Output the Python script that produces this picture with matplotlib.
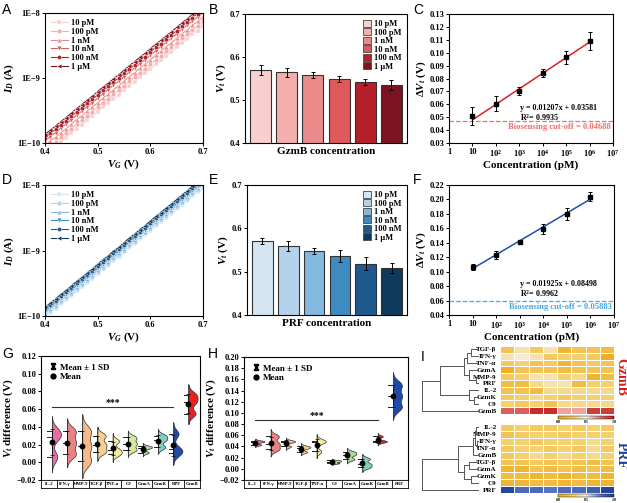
import numpy as np
import matplotlib
matplotlib.use("Agg")
import matplotlib.pyplot as plt
from matplotlib.colors import LinearSegmentedColormap
from matplotlib.lines import Line2D
from matplotlib.patches import Patch

plt.rcParams['font.family'] = ['Liberation Serif', 'DejaVu Serif']
plt.rcParams['font.weight'] = 'bold'
plt.rcParams['axes.labelweight'] = 'bold'
plt.rcParams['mathtext.fontset'] = 'custom'
plt.rcParams['mathtext.rm'] = 'Liberation Serif:bold'
plt.rcParams['mathtext.it'] = 'Liberation Serif:italic:bold'
plt.rcParams['mathtext.bf'] = 'Liberation Serif:bold'
plt.rcParams['axes.linewidth'] = 0.8
plt.rcParams['xtick.major.width'] = 0.7
plt.rcParams['ytick.major.width'] = 0.7
plt.rcParams['xtick.major.size'] = 2
plt.rcParams['ytick.major.size'] = 2
plt.rcParams['xtick.labelsize'] = 6
plt.rcParams['ytick.labelsize'] = 6

# ---------------- data ----------------
conc_labels = ['10 pM', '100 pM', '1 nM', '10 nM', '100 nM', '1 \u03bcM']
markers = ['s', 'o', '^', 'v', 'h', '<']
red_colors = ['#f8cfcf', '#f4aeae', '#ea8a8a', '#de5a5a', '#b5202a', '#7a1420']
blue_colors = ['#d5e6f2', '#b4d2eb', '#83b8df', '#3e8bc0', '#1f5a8e', '#0f3a5c']

vg = [0.40, 0.41, 0.42, 0.43, 0.44, 0.45, 0.46, 0.47, 0.48, 0.49, 0.50,
      0.51, 0.52, 0.53, 0.54, 0.55, 0.56, 0.57, 0.58, 0.59, 0.60,
      0.61, 0.62, 0.63, 0.64, 0.65, 0.66, 0.67, 0.68, 0.69, 0.70]

# log10(I_D) (GzmB), 10 pM ... 1 uM
gzmb_log_id = [
    [-10.18, -10.11, -10.05, -9.98, -9.92, -9.85, -9.78, -9.72, -9.65, -9.59, -9.52, -9.45, -9.39, -9.32, -9.26, -9.19,
     -9.12, -9.06, -8.99, -8.93, -8.86, -8.79, -8.73, -8.66, -8.60, -8.53, -8.46, -8.40, -8.33, -8.27, -8.20],
    [-10.11, -10.04, -9.98, -9.91, -9.85, -9.78, -9.71, -9.65, -9.58, -9.52, -9.45, -9.38, -9.32, -9.25, -9.19, -9.12,
     -9.05, -8.99, -8.92, -8.86, -8.79, -8.72, -8.66, -8.59, -8.53, -8.46, -8.39, -8.33, -8.26, -8.20, -8.13],
    [-10.04, -9.97, -9.91, -9.84, -9.78, -9.71, -9.64, -9.58, -9.51, -9.45, -9.38, -9.31, -9.25, -9.18, -9.12, -9.05,
     -8.98, -8.92, -8.85, -8.79, -8.72, -8.65, -8.59, -8.52, -8.46, -8.39, -8.32, -8.26, -8.19, -8.13, -8.06],
    [-9.97, -9.90, -9.84, -9.77, -9.71, -9.64, -9.57, -9.51, -9.44, -9.38, -9.31, -9.24, -9.18, -9.11, -9.05, -8.98,
     -8.91, -8.85, -8.78, -8.72, -8.65, -8.58, -8.52, -8.45, -8.39, -8.32, -8.25, -8.19, -8.12, -8.06, -7.99],
    [-9.92, -9.85, -9.79, -9.72, -9.66, -9.59, -9.52, -9.46, -9.39, -9.33, -9.26, -9.19, -9.13, -9.06, -9.00, -8.93,
     -8.86, -8.80, -8.73, -8.67, -8.60, -8.53, -8.47, -8.40, -8.34, -8.27, -8.20, -8.14, -8.07, -8.01, -7.94],
    [-9.87, -9.80, -9.74, -9.67, -9.61, -9.54, -9.47, -9.41, -9.34, -9.28, -9.21, -9.14, -9.08, -9.01, -8.95, -8.88,
     -8.81, -8.75, -8.68, -8.62, -8.55, -8.48, -8.42, -8.35, -8.29, -8.22, -8.15, -8.09, -8.02, -7.96, -7.89],
]
# log10(I_D) (PRF)
prf_log_id = [
    [-10.02, -9.95, -9.89, -9.82, -9.76, -9.69, -9.62, -9.56, -9.49, -9.43, -9.36, -9.29, -9.23, -9.16, -9.10, -9.03,
     -8.96, -8.90, -8.83, -8.77, -8.70, -8.63, -8.57, -8.50, -8.44, -8.37, -8.30, -8.24, -8.17, -8.11, -8.04],
    [-9.99, -9.92, -9.86, -9.79, -9.73, -9.66, -9.59, -9.53, -9.46, -9.40, -9.33, -9.26, -9.20, -9.13, -9.07, -9.00,
     -8.93, -8.87, -8.80, -8.74, -8.67, -8.60, -8.54, -8.47, -8.41, -8.34, -8.27, -8.21, -8.14, -8.08, -8.01],
    [-9.96, -9.89, -9.83, -9.76, -9.70, -9.63, -9.56, -9.50, -9.43, -9.37, -9.30, -9.23, -9.17, -9.10, -9.04, -8.97,
     -8.90, -8.84, -8.77, -8.71, -8.64, -8.57, -8.51, -8.44, -8.38, -8.31, -8.24, -8.18, -8.11, -8.05, -7.98],
    [-9.93, -9.86, -9.80, -9.73, -9.67, -9.60, -9.53, -9.47, -9.40, -9.34, -9.27, -9.20, -9.14, -9.07, -9.01, -8.94,
     -8.87, -8.81, -8.74, -8.68, -8.61, -8.54, -8.48, -8.41, -8.35, -8.28, -8.21, -8.15, -8.08, -8.02, -7.95],
    [-9.90, -9.83, -9.77, -9.70, -9.64, -9.57, -9.50, -9.44, -9.37, -9.31, -9.24, -9.17, -9.11, -9.04, -8.98, -8.91,
     -8.84, -8.78, -8.71, -8.65, -8.58, -8.51, -8.45, -8.38, -8.32, -8.25, -8.18, -8.12, -8.05, -7.99, -7.92],
    [-9.87, -9.80, -9.74, -9.67, -9.61, -9.54, -9.47, -9.41, -9.34, -9.28, -9.21, -9.14, -9.08, -9.01, -8.95, -8.88,
     -8.81, -8.75, -8.68, -8.62, -8.55, -8.48, -8.42, -8.35, -8.29, -8.22, -8.15, -8.09, -8.02, -7.96, -7.89],
]

gzmb_vt = [0.570, 0.564, 0.558, 0.549, 0.542, 0.535]
gzmb_vt_err = [0.012, 0.010, 0.007, 0.006, 0.007, 0.012]
prf_vt = [0.570, 0.559, 0.548, 0.536, 0.518, 0.508]
prf_vt_err = [0.007, 0.012, 0.007, 0.014, 0.015, 0.012]

conc_pm = [10, 100, 1e3, 1e4, 1e5, 1e6]
gzmb_dvt = [0.051, 0.0605, 0.0705, 0.0842, 0.0965, 0.1092]
gzmb_dvt_err = [0.007, 0.006, 0.003, 0.003, 0.005, 0.007]
gzmb_fit = (0.01207, 0.03581)
gzmb_r2 = 0.9935
gzmb_cutoff = 0.04688
prf_dvt = [0.106, 0.123, 0.141, 0.159, 0.180, 0.204]
prf_dvt_err = [0.004, 0.005, 0.003, 0.007, 0.008, 0.006]
prf_fit = (0.01925, 0.08498)
prf_r2 = 0.9962
prf_cutoff = 0.05883

g_names = ['IL-2', 'IFN-\u03b3', 'MMP-9', 'TGF-\u03b2', 'TNF-\u03b1', 'C9', 'GzmA', 'GzmK', 'RPF', 'GzmB']
g_colors = ['#e46fa6', '#e98484', '#f5b98a', '#f7d08f', '#f3ec9a', '#d3e89a', '#a9d8a0', '#82cfc0', '#1f4aa8', '#e82222']
g_vals = [
    [0.035, 0.028, 0.006],
    [0.035, 0.022, 0.009],
    [0.035, 0.018, 0.001],
    [0.030, 0.020, 0.012],
    [0.024, 0.014, 0.009],
    [0.028, 0.021, 0.014],
    [0.018, 0.016, 0.011],
    [0.030, 0.025, 0.017],
    [0.032, 0.015, 0.010],
    [0.076, 0.068, 0.055],
]
h_names = ['IL-2', 'IFN-\u03b3', 'MMP-9', 'TGF-\u03b2', 'TNF-\u03b1', 'C9', 'GzmA', 'GzmK', 'GzmB', 'PRF']
h_colors = ['#e46fa6', '#e98484', '#f5b98a', '#f7d08f', '#f3ec9a', '#b5d98a', '#a9d8a0', '#82cfc0', '#e82222', '#1f4aa8']
h_vals = [
    [0.050, 0.048, 0.043],
    [0.058, 0.045, 0.035],
    [0.050, 0.048, 0.040],
    [0.040, 0.037, 0.030],
    [0.050, 0.048, 0.031],
    [0.015, 0.013, 0.010],
    [0.030, 0.025, 0.017],
    [0.018, 0.009, 0.003],
    [0.058, 0.050, 0.048],
    [0.150, 0.130, 0.110],
]

heat_top_rows = ['TGF-\u03b2', 'IFN-\u03b3', 'TNF-\u03b1', 'GzmA', 'MMP-9', 'PRF', 'IL-2', 'GzmK', 'C9', 'GzmB']
heat_top = [
    [0.20, 0.40, 0.25, 0.40, 0.10, 0.20, 0.20, 0.15],
    [0.40, 0.45, 0.40, 0.25, 0.30, 0.30, 0.25, 0.05],
    [0.25, 0.30, 0.20, 0.25, 0.10, 0.20, 0.25, 0.20],
    [0.05, 0.20, 0.20, 0.20, 0.15, 0.20, 0.20, 0.20],
    [0.25, 0.30, 0.40, 0.40, 0.30, 0.35, 0.10, 0.15],
    [0.15, 0.15, 0.35, 0.40, 0.40, 0.15, 0.30, 0.30],
    [0.20, 0.20, 0.15, 0.35, 0.35, 0.35, 0.35, 0.35],
    [0.25, 0.30, 0.35, 0.30, 0.25, 0.30, 0.30, 0.30],
    [0.30, 0.25, 0.30, 0.20, 0.35, 0.35, 0.35, 0.35],
    [0.80, 0.80, 0.95, 0.95, 0.65, 0.65, 0.90, 0.90],
]
heat_bot_rows = ['IL-2', 'MMP-9', 'IFN-\u03b3', 'TNF-\u03b1', 'GzmB', 'TGF-\u03b2', 'GzmA', 'GzmK', 'C9', 'PRF']
heat_bot = [
    [0.25, 0.30, 0.25, 0.25, 0.30, 0.25, 0.30, 0.25],
    [0.20, 0.25, 0.30, 0.30, 0.25, 0.30, 0.30, 0.30],
    [0.30, 0.30, 0.25, 0.30, 0.30, 0.30, 0.35, 0.30],
    [0.25, 0.30, 0.30, 0.25, 0.30, 0.25, 0.35, 0.25],
    [0.25, 0.30, 0.35, 0.30, 0.35, 0.30, 0.35, 0.30],
    [0.20, 0.20, 0.25, 0.20, 0.25, 0.20, 0.15, 0.20],
    [0.10, 0.10, 0.20, 0.15, 0.20, 0.15, 0.20, 0.15],
    [0.15, 0.15, 0.10, 0.15, 0.10, 0.15, 0.15, 0.10],
    [0.10, 0.10, 0.15, 0.15, 0.10, 0.15, 0.10, 0.10],
    [0.95, 0.80, 0.80, 0.75, 0.80, 0.80, 0.85, 0.95],
]

# dendrograms: (left, right, height), leaves are row indices
t_ab = ((0, 1, 25), 2, 37)
t_cd = (3, (4, 5, 10), 30)
t_gk = (6, (7, 8, 15), 30)
tree_top = (((t_ab, t_cd, 45), t_gk, 120), 9, 175)
b_up = ((((0, 1, 8), (2, 3, 6), 13), 4, 17))
b_lo = ((5, 6, 30), (7, 8, 25), 45)
tree_bot = ((b_up, b_lo, 65), 9, 175)

# ---------------- figure ----------------
W, H = 627, 503
fig = plt.figure(figsize=(W / 100, H / 100), dpi=100)


def px_axes(l, t, r, b):
    return fig.add_axes([l / W, 1 - b / H, (r - l) / W, (b - t) / H])


def transfer_panel(ax, logs, colors):
    for lab, lg, c, m in zip(conc_labels, logs, colors, markers):
        ax.plot(vg, 10 ** np.array(lg), color=c, marker=m, ms=3.4, lw=0.8,
                mec='white', mew=0.3, label=lab)
    ax.set_yscale('log')
    ax.set_ylim(1e-10, 1e-8)
    ax.set_xlim(0.4, 0.7)
    ax.set_yticks([1e-10, 1e-9, 1e-8])
    ax.set_yticklabels(['1E\u221210', '1E\u22129', '1E\u22128'])
    ax.yaxis.set_minor_locator(matplotlib.ticker.NullLocator())
    ax.set_xticks([0.4, 0.5, 0.6, 0.7])
    ax.set_xticklabels(['0.4', '0.5', '0.6', '0.7'])
    ax.set_xlabel(r'$V_G$ (V)', fontsize=8, labelpad=1)
    ax.set_ylabel(r'$I_D$ (A)', fontsize=8, labelpad=1)
    ax.tick_params(pad=1.5)
    ax.legend(loc='upper left', fontsize=6, frameon=False, labelspacing=0.1,
              handlelength=2.0, handletextpad=0.4, borderaxespad=0.3)


def bar_panel(ax, vals, errs, colors, xlabel):
    x = np.arange(len(vals))
    ax.bar(x, vals, width=0.8, color=colors, edgecolor='#333333', lw=0.8,
           yerr=errs, capsize=1.5, error_kw=dict(elinewidth=0.7, capthick=0.7))
    ax.set_ylim(0.4, 0.7)
    ax.set_xlim(-0.6, 5.6)
    ax.set_yticks([0.4, 0.5, 0.6, 0.7])
    ax.set_xticks([])
    ax.set_xlabel(xlabel, fontsize=8, labelpad=3)
    ax.set_ylabel(r'$V_t$ (V)', fontsize=8, labelpad=1)
    ax.tick_params(pad=1.5)
    handles = [Patch(facecolor=c, edgecolor='#444444', lw=0.6) for c in colors]
    ax.legend(handles, conc_labels, loc='upper right', fontsize=6, frameon=False,
              labelspacing=0.02, handlelength=1.0, handleheight=0.9,
              handletextpad=0.3, borderaxespad=0.3)


def calib_panel(ax, vals, errs, fit, r2, cutoff, color, cut_color, yticks, ylim, txt_y):
    ax.errorbar(conc_pm, vals, yerr=errs, fmt='s', color='black', ms=2.8,
                capsize=1.5, elinewidth=0.7, capthick=0.7, zorder=3)
    xs = np.array([conc_pm[0], conc_pm[-1]])
    ax.plot(xs, fit[0] * np.log10(xs) + fit[1], color=color, lw=1.1, zorder=2)
    ax.axhline(cutoff, color=cut_color, ls='--', lw=0.9)
    ax.set_xscale('log')
    ax.set_xlim(1, 1e7)
    ax.set_ylim(*ylim)
    ax.set_yticks(yticks)
    ax.set_yticklabels(['%.2f' % t for t in yticks])
    ax.set_xticks([1, 10, 1e2, 1e3, 1e4, 1e5, 1e6, 1e7])
    ax.set_xticklabels(['1', '10'] + [r'$10^{%d}$' % k for k in range(2, 8)])
    ax.xaxis.set_minor_locator(matplotlib.ticker.NullLocator())
    ax.tick_params(pad=1.5)
    ax.set_xlabel('Concentration (pM)', fontsize=8, labelpad=1)
    ax.set_ylabel(r'$\Delta V_t$ (V)', fontsize=8, labelpad=1)
    ax.text(0.43, txt_y[0], 'y = %.5fx + %.5f' % fit, transform=ax.transAxes,
            fontsize=5.8, va='center')
    ax.text(0.43, txt_y[1], r'R$^2$= %.4f' % r2, transform=ax.transAxes,
            fontsize=5.8, va='center')
    ax.text(0.985, txt_y[2], 'Biosensing cut-off = %.5f' % cutoff, transform=ax.transAxes,
            fontsize=6.2, color=cut_color, ha='right', va='center')


def half_violin(ax, pos, vals, color, width):
    vals = np.asarray(vals, dtype=float)
    bw = 0.5 * vals.std(ddof=1) * len(vals) ** -0.2
    grid = np.linspace(vals.min() - 2.8 * bw, vals.max() + 2.8 * bw, 200)
    dens = np.exp(-0.5 * ((grid[:, None] - vals[None, :]) / bw) ** 2).sum(axis=1)
    dens = dens / dens.max() * width
    ax.fill_betweenx(grid, pos, pos + dens, facecolor=color, edgecolor='#333333', lw=0.5, zorder=2)
    ax.plot([pos, pos], [grid[0], grid[-1]], color='#333333', lw=0.5, zorder=2)
    for v in vals:
        ax.plot([pos - 0.3, pos], [v, v], color='#222222', lw=0.7, zorder=3)
    ax.errorbar(pos, vals.mean(), yerr=vals.std(ddof=1), fmt='o', color='black', ms=3.2,
                capsize=1.2, elinewidth=0.5, capthick=0.5, zorder=4)


def violin_panel(ax, lab_ax, names, vals, colors, xlim, ylim, yticks, sig_y):
    for i, (v, c) in enumerate(zip(vals, colors)):
        half_violin(ax, i, v, c, 0.6)
    ax.set_xlim(*xlim)
    ax.set_ylim(*ylim)
    ax.set_yticks(yticks)
    ax.set_yticklabels(['%.2f' % t if t >= 0 else '\u2212%.2f' % abs(t) for t in yticks])
    ax.set_xticks([])
    ax.tick_params(pad=1.5)
    ax.set_ylabel(r'$V_t$ difference (V)', fontsize=8, labelpad=1)
    ax.plot([0, 8], [sig_y, sig_y], color='#333333', lw=0.8)
    ax.text(4, sig_y, '***', ha='center', va='bottom', fontsize=7)
    handles = [Line2D([], [], ls='none', marker=r'$\mathtt{I}$', color='black', ms=5),
               Line2D([], [], ls='none', marker='o', color='black', ms=3.5)]
    ax.legend(handles, ['Mean \u00b1 1 SD', 'Mean'], loc='upper left', fontsize=6.5,
              frameon=False, labelspacing=0.15, handletextpad=0.3, borderaxespad=0.4,
              handlelength=1.0)
    n = len(names)
    lab_ax.set_xlim(0, n)
    lab_ax.set_ylim(0, 1)
    lab_ax.set_xticks([])
    lab_ax.set_yticks([])
    for sp in lab_ax.spines.values():
        sp.set_linewidth(0.6)
    for i, nm in enumerate(names):
        lab_ax.text(i + 0.5, 0.45, nm, ha='center', va='center', fontsize=3.3)
        if i > 0:
            lab_ax.axvline(i, color='black', lw=0.6)


def draw_tree(ax, node):
    if isinstance(node, int):
        return node + 0.5, 0.0
    left, right, h = node
    yl, hl = draw_tree(ax, left)
    yr, hr = draw_tree(ax, right)
    ax.plot([hl, h, h, hr], [yl, yl, yr, yr], color='#555555', lw=0.7)
    return (yl + yr) / 2, h


def heat_panel(hax, dax, cax, rows, vals, cmap, tree):
    m = hax.pcolormesh(np.array(vals), cmap=cmap, vmin=0, vmax=1, edgecolors='white', linewidth=0.6)
    hax.set_ylim(len(rows), 0)
    hax.set_xlim(0, 8)
    hax.set_xticks([])
    hax.set_yticks(np.arange(len(rows)) + 0.5)
    hax.set_yticklabels(rows, fontsize=5)
    hax.tick_params(length=0, pad=2.5)
    for sp in hax.spines.values():
        sp.set_visible(False)
    draw_tree(dax, tree)
    dax.set_ylim(len(rows), 0)
    dax.set_xlim(178, 0)
    dax.axis('off')
    cb = fig.colorbar(m, cax=cax, orientation='horizontal', ticks=[0, 0.5, 1])
    cb.ax.set_xticklabels(['0.0', '0.5', '1.0'])
    cb.ax.tick_params(labelsize=3, length=0, pad=1)
    cb.outline.set_linewidth(0.3)


# panels A-C
axA = px_axes(45, 13, 203, 143)
transfer_panel(axA, gzmb_log_id, red_colors)
axB = px_axes(245, 14, 407, 143)
bar_panel(axB, gzmb_vt, gzmb_vt_err, red_colors, 'GzmB concentration')
axC = px_axes(449, 14, 613, 143)
calib_panel(axC, gzmb_dvt, gzmb_dvt_err, gzmb_fit, gzmb_r2, gzmb_cutoff, '#e02020', '#f26d6d',
            [0.03, 0.04, 0.05, 0.06, 0.07, 0.08, 0.09, 0.10, 0.11, 0.12, 0.13], (0.03, 0.13),
            (0.268, 0.196, 0.125))

# panels D-F
axD = px_axes(45, 185, 203, 316)
transfer_panel(axD, prf_log_id, blue_colors)
axE = px_axes(247, 185, 407, 315)
bar_panel(axE, prf_vt, prf_vt_err, blue_colors, 'PRF concentration')
axF = px_axes(449, 185, 614, 315)
calib_panel(axF, prf_dvt, prf_dvt_err, prf_fit, prf_r2, prf_cutoff, '#1f4fa8', '#4aa8e0',
            [0.04, 0.06, 0.08, 0.10, 0.12, 0.14, 0.16, 0.18, 0.20, 0.22], (0.04, 0.22),
            (0.235, 0.163, 0.062))

# panels G-H
axG = px_axes(41, 356, 200, 480)
axGl = px_axes(41, 480, 200, 488)
violin_panel(axG, axGl, g_names, g_vals, g_colors, (-0.72, 9.76), (-0.02, 0.12),
             [-0.02, 0.0, 0.02, 0.04, 0.06, 0.08, 0.10, 0.12], 0.062)
axH = px_axes(244, 357, 408, 480)
axHl = px_axes(244, 480, 408, 488)
violin_panel(axH, axHl, h_names, h_vals, h_colors, (-0.74, 9.98), (-0.02, 0.20),
             [-0.02, 0.0, 0.02, 0.04, 0.06, 0.08, 0.10, 0.12, 0.14, 0.16, 0.18, 0.20], 0.088)

# panel I
cmap_red = LinearSegmentedColormap.from_list(
    'yr', [(0, '#eda818'), (0.3, '#f5d070'), (0.5, '#f7f4f0'), (0.75, '#e07070'), (1, '#c41a1a')])
cmap_blue = LinearSegmentedColormap.from_list(
    'yb', [(0, '#eda818'), (0.3, '#f5d070'), (0.5, '#f5f3f1'), (0.75, '#5a75c0'), (1, '#1a3a93')])
hI1 = px_axes(500, 346, 614, 414)
dI1 = px_axes(421, 346, 479, 414)
cI1 = px_axes(558, 416, 614, 419)
heat_panel(hI1, dI1, cI1, heat_top_rows, heat_top, cmap_red, tree_top)
hI2 = px_axes(500, 424, 614, 493)
dI2 = px_axes(421, 424, 479, 493)
cI2 = px_axes(558, 494, 614, 497)
heat_panel(hI2, dI2, cI2, heat_bot_rows, heat_bot, cmap_blue, tree_bot)
fig.text(621 / W, 1 - 377 / H, 'GzmB', color='#e01818', rotation=270, ha='center', va='center', fontsize=10)
fig.text(621 / W, 1 - 455 / H, 'PRF', color='#1a3fa0', rotation=270, ha='center', va='center', fontsize=10)

# panel letters
for letter, (x, y) in zip('ABCDEFGHI', [(2, 3), (209, 3), (413, 3), (2, 173), (209, 173), (413, 173),
                                        (2, 347), (208, 347), (421, 350)]):
    fig.text(x / W, 1 - y / H, letter, fontsize=10, family='Liberation Sans', weight='normal', va='top')

fig.savefig('out.png', dpi=100)
